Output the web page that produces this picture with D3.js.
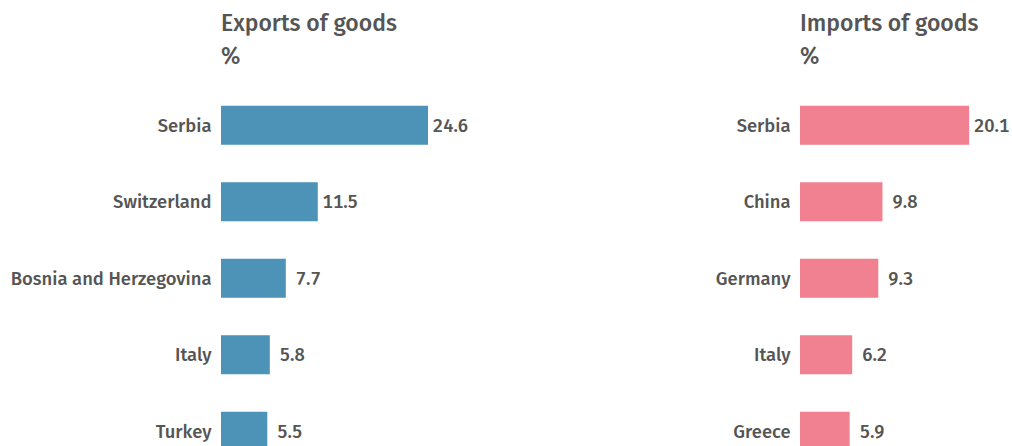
<!DOCTYPE html>
<html>
<head>
<meta charset="utf-8">
<script src="https://cdn.jsdelivr.net/npm/d3@7"></script>
<style>
  html, body { margin: 0; padding: 0; background: #fff; }
  svg { display: block; }
  text { font-family: "Fira Sans", "Open Sans", "Noto Sans", sans-serif; fill: #555; font-weight: 500; }
  .val { font-variant-numeric: tabular-nums; }
</style>
</head>
<body>
<svg id="mainsvg" width="1012" height="446"></svg>
<script>
const exportCountries = ['Serbia', 'Switzerland', 'Bosnia and Herzegovina', 'Italy', 'Turkey']
const exportValues = [24.6, 11.5, 7.7, 5.8, 5.5]
const importCountries = ['Serbia', 'China', 'Germany', 'Italy', 'Greece']
const importValues = [20.1, 9.8, 9.3, 6.2, 5.9]

const svg = d3.select('#mainsvg')

// same px-per-percent on both panels
const x = d3.scaleLinear().domain([0, 24.6]).range([0, 207])

function drawPanel(left, title, countries, values, color) {
    const g = svg.append('g').attr('transform', `translate(${left},0)`)

    g.append('text').attr('x', 0).attr('y', 31)
        .style('font-size', '23px').text(title)
    g.append('text').attr('x', 0).attr('y', 64)
        .style('font-size', '23px').text('%')

    const y = d3.scaleBand().domain(countries)
        .range([87, 87 + 76.5 * countries.length])
        .paddingInner(0.49).paddingOuter(0.245)

    const rows = g.selectAll('.row').data(countries.map((c, i) => ({c, v: values[i]})))
        .enter().append('g').attr('class', 'row')

    rows.append('rect')
        .attr('x', 0)
        .attr('y', d => y(d.c))
        .attr('width', d => x(d.v))
        .attr('height', y.bandwidth())
        .attr('fill', color)

    rows.append('text')
        .attr('x', -9.5)
        .attr('y', d => y(d.c) + y.bandwidth() / 2 + 6.5)
        .attr('text-anchor', 'end')
        .style('font-size', '18.4px')
        .text(d => d.c)

    rows.append('text')
        .attr('class', 'val')
        .attr('x', d => x(d.v) + 22.5)
        .attr('y', d => y(d.c) + y.bandwidth() / 2 + 6.5)
        .attr('text-anchor', 'middle')
        .style('font-size', '18.4px')
        .text(d => d.v.toFixed(1))
}

drawPanel(221, 'Exports of goods', exportCountries, exportValues, '#4d92b7')
drawPanel(800, 'Imports of goods', importCountries, importValues, '#f18191')
</script>
</body>
</html>
